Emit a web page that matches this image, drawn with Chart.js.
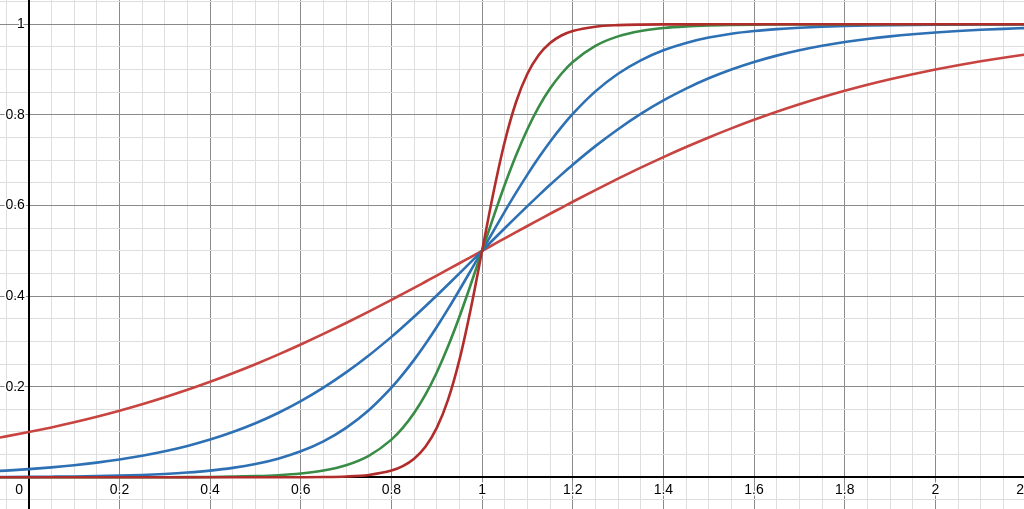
<!DOCTYPE html>
<html>
<head>
<meta charset="utf-8">
<script src="https://cdn.jsdelivr.net/npm/chart.js@4.4.1/dist/chart.umd.min.js"></script>
<style>
  html, body { margin: 0; padding: 0; background: #fff; }
  #wrap { width: 1024px; height: 509px; position: relative; }
</style>
</head>
<body>
<div id="wrap"><canvas id="chartCanvas"></canvas></div>
<script>
// sample positions along x
var xs = [-0.1, -0.05, 0, 0.05, 0.1, 0.15, 0.2, 0.25, 0.3, 0.35, 0.4, 0.45, 0.5, 0.55, 0.6, 0.65, 0.7, 0.75, 0.8,
  0.825, 0.85, 0.875, 0.9, 0.925, 0.95, 0.975, 1, 1.025, 1.05, 1.075, 1.1, 1.125, 1.15, 1.175, 1.2,
  1.25, 1.3, 1.35, 1.4, 1.45, 1.5, 1.55, 1.6, 1.65, 1.7, 1.75, 1.8, 1.85, 1.9, 1.95, 2, 2.05, 2.1, 2.15, 2.2];

// flattest red curve
var redFlat = [0.0816, 0.0903, 0.0998, 0.1101, 0.1213, 0.1335, 0.1468, 0.1611, 0.1766, 0.1931, 0.2108, 0.2297, 0.2497,
  0.2709, 0.2932, 0.3165, 0.3407, 0.3659, 0.3917, 0.4050, 0.4182, 0.4317, 0.4452, 0.4588, 0.4725, 0.4863, 0.5,
  0.5137, 0.5275, 0.5412, 0.5548, 0.5683, 0.5818, 0.5950, 0.6083, 0.6341, 0.6593, 0.6835, 0.7068, 0.7291, 0.7503,
  0.7703, 0.7892, 0.8069, 0.8234, 0.8389, 0.8532, 0.8665, 0.8787, 0.8899, 0.9002, 0.9097, 0.9184, 0.9262, 0.9334];

// outer blue curve
var blueWide = [0.0121, 0.0148, 0.0180, 0.0219, 0.0266, 0.0323, 0.0392, 0.0474, 0.0573, 0.0691, 0.0832, 0.0998, 0.1192,
  0.1419, 0.1680, 0.1978, 0.2315, 0.2689, 0.3100, 0.3318, 0.3543, 0.3775, 0.4013, 0.4256, 0.4502, 0.4750, 0.5,
  0.5250, 0.5498, 0.5744, 0.5987, 0.6225, 0.6457, 0.6682, 0.6900, 0.7311, 0.7685, 0.8022, 0.8320, 0.8581, 0.8808,
  0.9002, 0.9168, 0.9309, 0.9427, 0.9526, 0.9608, 0.9677, 0.9734, 0.9781, 0.9820, 0.9852, 0.9879, 0.9900, 0.9918];

// inner blue curve
var blueNarrow = [0.0005, 0.0006, 0.0009, 0.0013, 0.0018, 0.0026, 0.0037, 0.0052, 0.0074, 0.0105, 0.0148, 0.0208, 0.0293,
  0.0411, 0.0573, 0.0794, 0.1091, 0.1480, 0.1978, 0.2271, 0.2592, 0.2942, 0.3318, 0.3717, 0.4134, 0.4564, 0.5,
  0.5436, 0.5866, 0.6283, 0.6682, 0.7058, 0.7408, 0.7729, 0.8022, 0.8520, 0.8909, 0.9206, 0.9427, 0.9589, 0.9707,
  0.9792, 0.9852, 0.9895, 0.9926, 0.9948, 0.9963, 0.9974, 0.9982, 0.9987, 0.9991, 0.9994, 0.9995, 0.9997, 0.9998];

// green curve
var green = [0, 0, 0, 0, 0, 0, 0.0001, 0.0001, 0.0002, 0.0004, 0.0007, 0.0014, 0.0025,
  0.0045, 0.0082, 0.0148, 0.0266, 0.0474, 0.0832, 0.1091, 0.1419, 0.1824, 0.2315, 0.2891, 0.3543, 0.4256, 0.5,
  0.5744, 0.6457, 0.7109, 0.7685, 0.8176, 0.8581, 0.8909, 0.9168, 0.9526, 0.9734, 0.9852, 0.9918, 0.9955, 0.9975,
  0.9986, 0.9993, 0.9996, 0.9998, 0.9999, 0.9999, 1, 1, 1, 1, 1, 1, 1, 1];

// steepest dark red curve
var redSteep = [0, 0, 0, 0, 0, 0, 0, 0, 0, 0, 0, 0, 0,
  0.0001, 0.0002, 0.0006, 0.0018, 0.0052, 0.0148, 0.0247, 0.0411, 0.0675, 0.1091, 0.1715, 0.2592, 0.3717, 0.5,
  0.6283, 0.7408, 0.8285, 0.8909, 0.9325, 0.9589, 0.9753, 0.9852, 0.9948, 0.9982, 0.9994, 0.9998, 0.9999, 1,
  1, 1, 1, 1, 1, 1, 1, 1, 1, 1, 1, 1, 1, 1];

// label just past the right edge, only partly visible
var edgeLabel = 2.2;

function toPoints(ys) {
  return xs.map(function (x, i) { return { x: x, y: ys[i] }; });
}

function isMajor(v) {
  return Math.abs(v / 0.2 - Math.round(v / 0.2)) < 1e-6;
}
function gridColor(c) {
  var v = c.tick.value;
  if (Math.abs(v) < 1e-9) return "rgba(0,0,0,0)";
  return isMajor(v) ? "#8a8a8a" : "#dedede";
}
function fmt(v) {
  return String(Math.round(v * 10) / 10);
}
function noPadding(scale) {
  scale.paddingTop = 0;
  scale.paddingBottom = 0;
  scale.paddingLeft = 0;
  scale.paddingRight = 0;
}

var tickFont = { family: "'Liberation Sans', Arial, sans-serif", size: 14 };

function curve(ys, color) {
  return {
    data: toPoints(ys),
    borderColor: color,
    borderWidth: 2.6,
    pointRadius: 0,
    fill: false,
    cubicInterpolationMode: "monotone"
  };
}

// draws the cut-off tick label at the right edge through the x scale
var edgeLabelPlugin = {
  id: "edgeLabel",
  afterDraw: function (chart) {
    var c = chart.ctx;
    var px = chart.scales.x.getPixelForValue(edgeLabel);
    var py = chart.scales.y.getPixelForValue(0) + 4 + 8.4;
    c.save();
    c.font = "14px 'Liberation Sans', Arial, sans-serif";
    c.textAlign = "center";
    c.textBaseline = "middle";
    c.lineWidth = 3;
    c.strokeStyle = "#fff";
    c.strokeText(fmt(edgeLabel), px, py);
    c.fillStyle = "#000";
    c.fillText(fmt(edgeLabel), px, py);
    c.restore();
  }
};

var ctx = document.getElementById("chartCanvas");
var logisticChart = new Chart(ctx, {
  type: "line",
  data: {
    datasets: [
      curve(redSteep, "#b12d2b"),
      curve(green, "#388c46"),
      curve(blueNarrow, "#2d70b3"),
      curve(blueWide, "#2d70b3"),
      curve(redFlat, "#c74440")
    ]
  },
  plugins: [edgeLabelPlugin],
  options: {
    responsive: true,
    maintainAspectRatio: false,
    animation: false,
    layout: { padding: 0 },
    plugins: { legend: { display: false }, tooltip: { enabled: false } },
    scales: {
      x: {
        type: "linear",
        position: { y: 0 },
        min: -0.0635,
        max: 2.1955,
        afterFit: noPadding,
        grid: { color: gridColor, lineWidth: 1, drawTicks: false },
        border: { color: "#000", width: 2 },
        ticks: {
          stepSize: 0.05,
          includeBounds: false,
          autoSkip: false,
          maxRotation: 0,
          padding: 4,
          color: "#000",
          font: tickFont,
          textStrokeColor: "#fff",
          textStrokeWidth: 3,
          callback: function (v) {
            if (!isMajor(v)) return "";
            if (Math.abs(v) < 1e-9) return "0     ";
            return fmt(v);
          }
        }
      },
      y: {
        type: "linear",
        position: { x: 0 },
        min: -0.07,
        max: 1.0537,
        afterFit: noPadding,
        grid: { color: gridColor, lineWidth: 1, drawTicks: false },
        border: { color: "#000", width: 2 },
        ticks: {
          stepSize: 0.05,
          includeBounds: false,
          autoSkip: false,
          padding: 0,
          color: "#000",
          font: tickFont,
          textStrokeColor: "#fff",
          textStrokeWidth: 3,
          callback: function (v) {
            if (!isMajor(v) || Math.abs(v) < 1e-9) return "";
            return fmt(v) + " ";
          }
        }
      }
    }
  }
});
</script>
</body>
</html>
